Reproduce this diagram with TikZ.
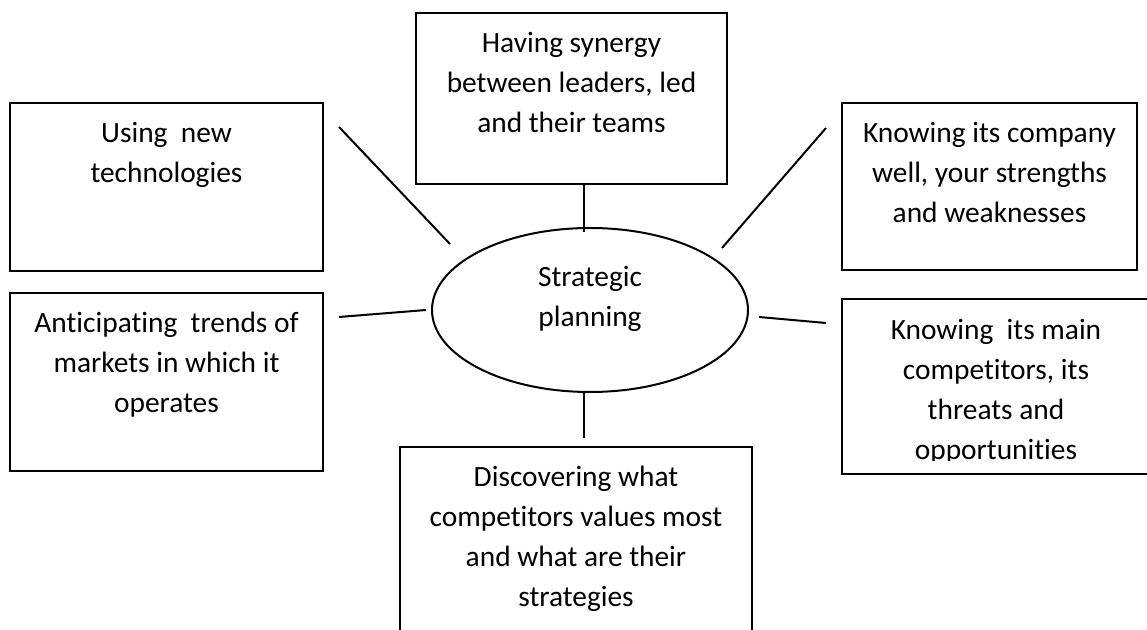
\documentclass[tikz,border=0pt]{standalone}
\usepackage{fontspec}
\setmainfont{Carlito}[Ligatures=NoCommon]
\usetikzlibrary{shapes.geometric}
\newcommand{\boxtxt}[3]{\parbox[t][#2][t]{#1}{\centering\rule{0pt}{20pt}#3}}
\begin{document}
\begin{tikzpicture}[x=0.5pt,y=-0.5pt,
  every node/.style={font=\fontsize{14.7}{20}\selectfont},
  box/.style={draw, line width=1pt, inner sep=0pt, outer sep=0pt},
  hub/.style={draw, ellipse, line width=1pt, inner sep=0pt, outer sep=0pt,
              minimum width=158pt, minimum height=82pt},
  link/.style={line width=1pt}]
\useasboundingbox (0,0) rectangle (1147,630);
\clip (0,0) rectangle (1147,630);

% boxes
\node[box] (t)  at (571.5,98.5) {\boxtxt{155.5pt}{85.5pt}{Having synergy\\between leaders, led\\and their teams}};
\node[box] (tl) at (166.5,187)  {\boxtxt{156.5pt}{84pt}{Using~ new\\technologies}};
\node[box] (ml) at (166.5,382)  {\boxtxt{156.5pt}{89pt}{Anticipating~ trends of\\markets in which it\\operates}};
\node[box] (tr) at (989.5,186.5) {\boxtxt{147.5pt}{83.5pt}{Knowing its company\\well, your strengths\\and weaknesses}};
\node[box] (mr) at (996,386.5) {\parbox[t][87.5pt][t]{154pt}{\mbox{}}};
\begin{scope}
  \clip (842,299) rectangle (1150,461);
  \node[inner sep=0pt, anchor=north] (mrt) at (mr.north) {\boxtxt{154pt}{87.5pt}{Knowing~ its main\\competitors, its\\threats and\\opportunities}};
\end{scope}
\node[box] (b)  at (576,573.5) {\boxtxt{176pt}{126.5pt}{Discovering what\\competitors values most\\and what are their\\strategies}};

% centre
\node[hub] (c) at (590,310) {\parbox[t][50pt][t]{80pt}{\centering\rule{0pt}{13.5pt}Strategic\\planning}};

% free ends of connectors
\coordinate (tlA) at (339,127);
\coordinate (tlB) at (450,244);
\coordinate (trA) at (826,128);
\coordinate (trB) at (722,248);
\coordinate (mlA) at (339,317);
\coordinate (mlB) at (426,310);
\coordinate (mrA) at (759,317);
\coordinate (mrB) at (826,323);

% connectors
\draw[link] ([xshift=6.25pt]t.south) -- ([xshift=-3pt,yshift=-2pt]c.north);
\draw[link] ([xshift=-3pt]c.south) -- ([xshift=4pt,yshift=4.5pt]b.north);
\draw[link] (tlA) -- (tlB);
\draw[link] (trA) -- (trB);
\draw[link] (mlA) -- (mlB);
\draw[link] (mrA) -- (mrB);
\end{tikzpicture}
\end{document}
